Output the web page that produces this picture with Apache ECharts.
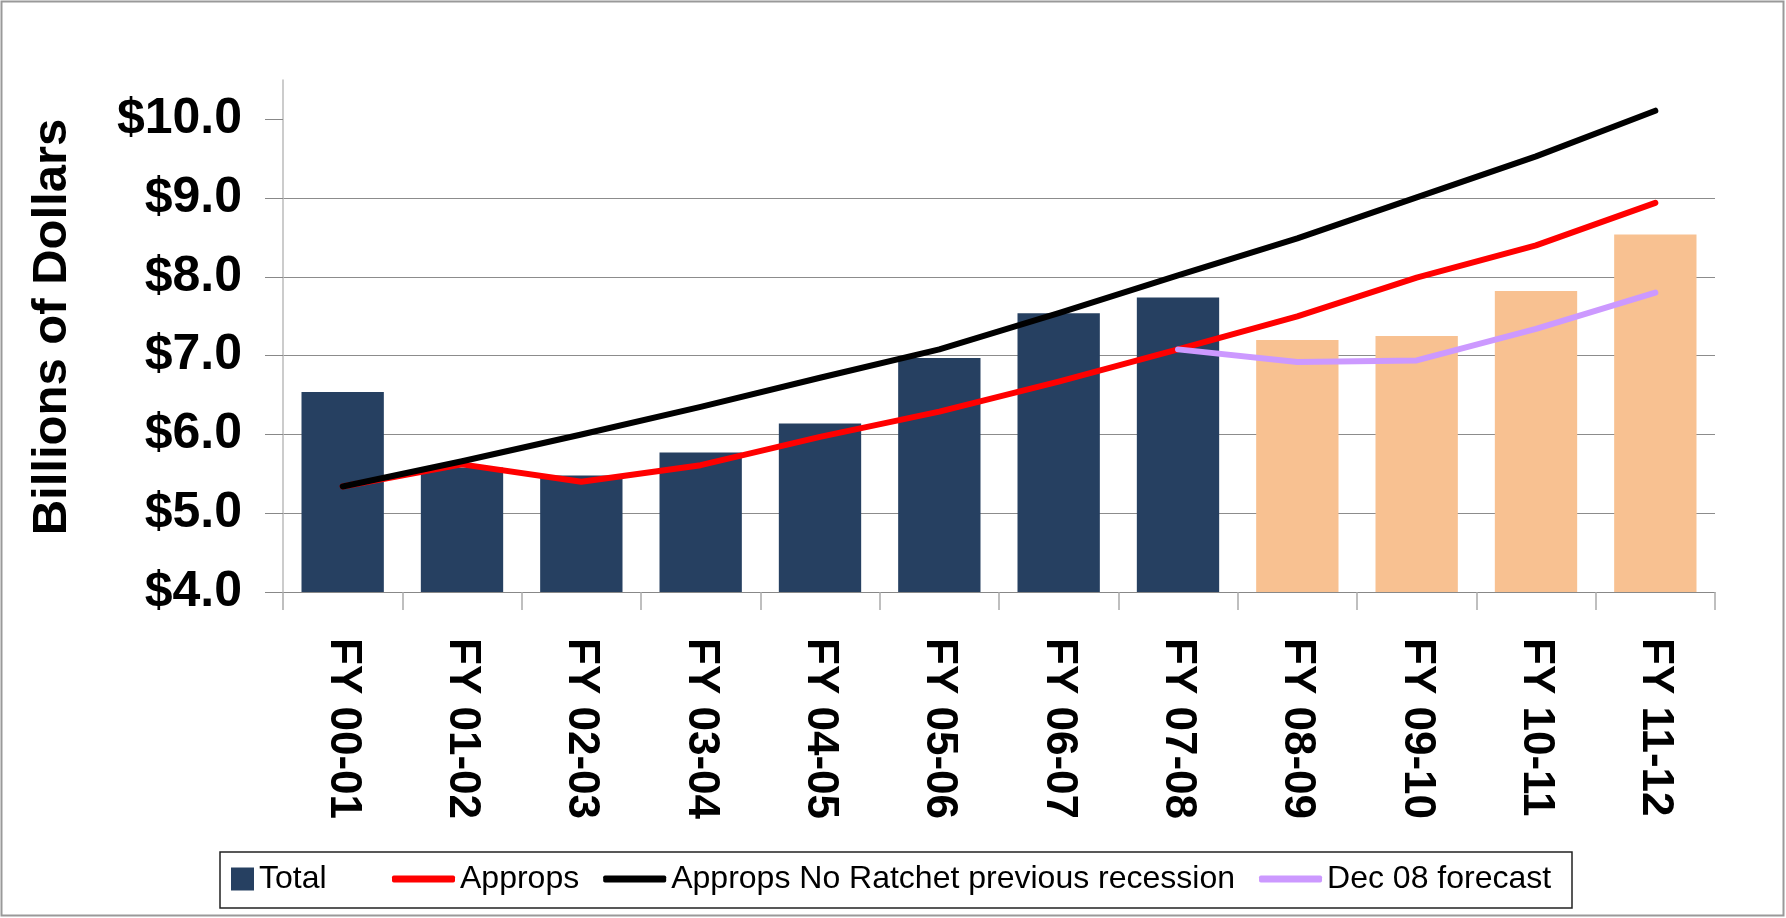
<!DOCTYPE html>
<html>
<head>
<meta charset="utf-8">
<script src="https://cdn.jsdelivr.net/npm/echarts@6/dist/echarts.min.js"></script>
<style>
html,body{margin:0;padding:0;background:#fff;}
#chart{width:1786px;height:918px;}
</style>
</head>
<body>
<div id="chart"></div>
<script>
const categories = ['FY 00-01','FY 01-02','FY 02-03','FY 03-04','FY 04-05','FY 05-06','FY 06-07','FY 07-08','FY 08-09','FY 09-10','FY 10-11','FY 11-12'];
const totalValues = [6.54, 5.58, 5.48, 5.77, 6.14, 6.97, 7.54, 7.74, 7.20, 7.25, 7.82, 8.54];
const forecastStart = 8;
const appropsValues = [5.34, 5.62, 5.40, 5.61, 5.97, 6.29, 6.67, 7.08, 7.50, 7.99, 8.40, 8.94];
const noRatchetValues = [5.34, 5.66, 6.00, 6.35, 6.72, 7.08, 7.54, 8.02, 8.49, 9.01, 9.53, 10.11];
const dec08Values = [null, null, null, null, null, null, null, 7.08, 6.92, 6.94, 7.34, 7.80];
const yTicks = [4, 5, 6, 7, 8, 9, 10];

const FONT = '"Liberation Sans", Arial, sans-serif';
function hasFont(name) {
  const c = document.createElement('canvas').getContext('2d');
  const s = '$10.0 Billions of Dollars';
  c.font = 'bold 60px monospace';
  const w1 = c.measureText(s).width;
  c.font = 'bold 60px "' + name + '", monospace';
  const w2 = c.measureText(s).width;
  return Math.abs(w1 - w2) > 0.5;
}
const narrow = hasFont('Liberation Sans Narrow');
const YFONT = narrow ? '"Liberation Sans Narrow", "Liberation Sans", sans-serif' : FONT;
const ySize = narrow ? 60 : 50;
const titleSize = narrow ? 57 : 49;

const chart = echarts.init(document.getElementById('chart'), null, {renderer: 'canvas'});

chart.setOption({
  animation: false,
  backgroundColor: '#fff',
  grid: {left: 283, right: 71, top: 80, bottom: 326, containLabel: false},
  xAxis: {
    type: 'category',
    data: categories,
    boundaryGap: true,
    axisLine: {show: true, lineStyle: {color: '#888', width: 1}},
    axisTick: {show: true, inside: false, length: 18, alignWithLabel: false, interval: 0, lineStyle: {color: '#aaa', width: 1.5}},
    axisLabel: {interval: 0, rotate: -90, margin: 46, fontSize: 44, fontWeight: 'bold', color: '#000', fontFamily: FONT},
    splitLine: {show: false}
  },
  yAxis: {
    type: 'value',
    min: 4,
    max: 10.5,
    interval: 1,
    axisLine: {show: true, lineStyle: {color: '#bbb', width: 1.5}},
    axisTick: {show: true, length: 18, customValues: yTicks, lineStyle: {color: '#888'}},
    axisLabel: {
      customValues: yTicks,
      margin: 41, fontSize: ySize, fontWeight: 'bold', color: '#000', fontFamily: YFONT,
      formatter: v => '$' + Number(v).toFixed(1)
    },
    splitLine: {show: true, showMaxLine: false, lineStyle: {color: '#8c8c8c', width: 1}}
  },
  legend: [
    {
      data: [{name: 'Total', icon: 'rect', itemStyle: {color: '#264061'}}],
      left: 231, top: 863, padding: 0,
      itemWidth: 23, itemHeight: 23, itemGap: 24,
      selectedMode: false,
      textStyle: {fontSize: 32, color: '#000', fontFamily: FONT, lineHeight: 32}
    },
    {
      data: [
        {name: 'Approps', icon: 'roundRect', itemStyle: {color: '#FF0000'}},
        {name: 'Approps No Ratchet previous recession', icon: 'roundRect', itemStyle: {color: '#000000'}},
        {name: 'Dec 08 forecast', icon: 'roundRect', itemStyle: {color: '#CC99FF'}}
      ],
      left: 392, top: 863, padding: 0,
      itemWidth: 63, itemHeight: 7, itemGap: 24,
      selectedMode: false,
      textStyle: {fontSize: 32, color: '#000', fontFamily: FONT, lineHeight: 32}
    }
  ],
  graphic: [
    {type: 'rect', shape: {x: 1.5, y: 1.5, width: 1782, height: 914}, style: {fill: null, stroke: '#999', lineWidth: 2}, silent: true, z: -1},
    {type: 'rect', shape: {x: 220, y: 852, width: 1352, height: 56}, style: {fill: null, stroke: '#222', lineWidth: 1.5}, silent: true},
    {type: 'text', x: 52, y: 327, rotation: Math.PI / 2,
     style: {text: 'Billions of Dollars', font: 'bold ' + titleSize + 'px ' + YFONT, fill: '#000', textAlign: 'center', textVerticalAlign: 'middle'}, silent: true}
  ],
  series: [
    {
      name: 'Total', type: 'bar', data: totalValues,
      barCategoryGap: '31%',
      itemStyle: {color: p => p.dataIndex >= forecastStart ? '#F8C191' : '#264061'},
      z: 1
    },
    {
      name: 'Approps', type: 'line', data: appropsValues,
      symbol: 'none', lineStyle: {color: '#FF0000', width: 6, cap: 'round', join: 'round'},
      itemStyle: {color: '#FF0000'}, z: 3
    },
    {
      name: 'Approps No Ratchet previous recession', type: 'line', data: noRatchetValues,
      symbol: 'none', lineStyle: {color: '#000000', width: 6, cap: 'round', join: 'round'},
      itemStyle: {color: '#000000'}, z: 4
    },
    {
      name: 'Dec 08 forecast', type: 'line', data: dec08Values,
      symbol: 'none', connectNulls: false, lineStyle: {color: '#CC99FF', width: 6, cap: 'round', join: 'round'},
      itemStyle: {color: '#CC99FF'}, z: 5
    }
  ]
});
</script>
</body>
</html>
